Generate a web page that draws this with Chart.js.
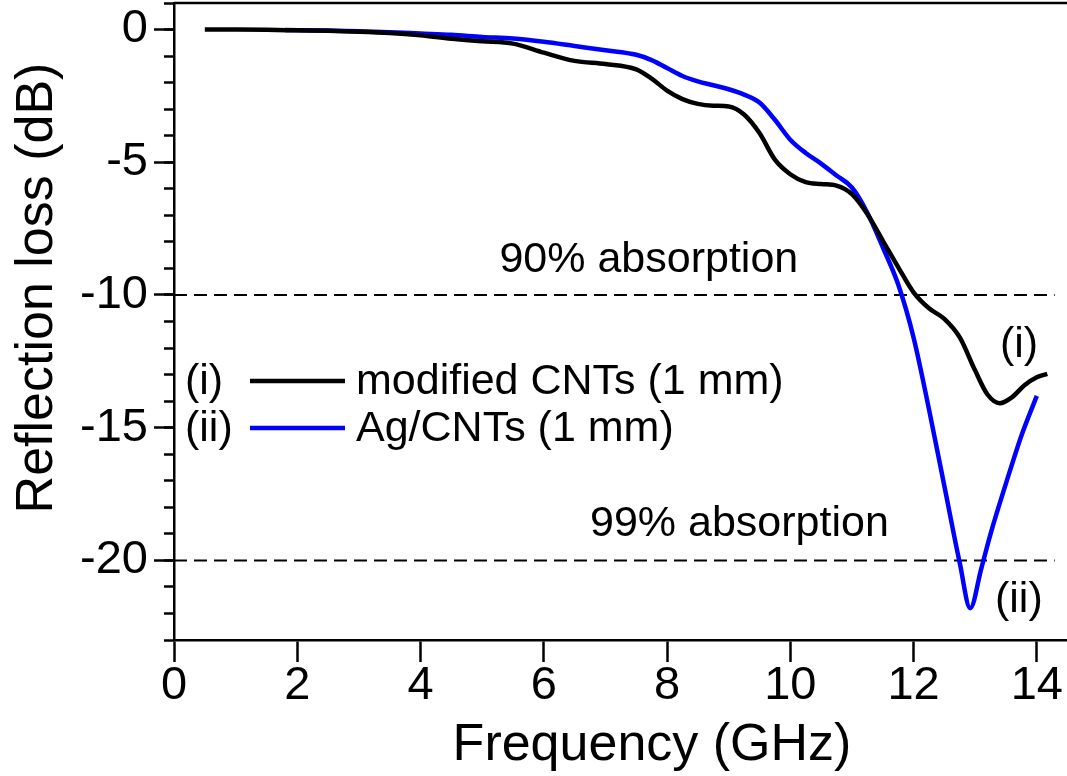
<!DOCTYPE html>
<html>
<head>
<meta charset="utf-8">
<script src="https://cdn.jsdelivr.net/npm/chart.js"></script>
<style>
    html, body { margin: 0; padding: 0; background: #fff; }
    #wrap { width: 1067px; height: 776px; position: relative; }
</style>
</head>
<body>
<div id="wrap"><canvas id="rlChart"></canvas></div>
<script>
/* ============================================
   DATA
   ============================================ */
const freqCNT = [0.5, 1.0, 1.5, 2.0, 2.5, 3.0, 3.5, 4.0, 4.5, 5.0, 5.5, 6.0, 6.5, 7.0, 7.5, 7.75,
    8.0, 8.25, 8.5, 8.75, 9.0, 9.25, 9.5, 9.75, 10.0, 10.25, 10.5, 10.75, 11.0, 11.25, 11.5, 11.75,
    12.0, 12.25, 12.5, 12.75, 13.0, 13.2, 13.4, 13.6, 13.8, 14.0, 14.17];
const rlCNT = [0, 0, -0.01, -0.03, -0.05, -0.08, -0.13, -0.22, -0.35, -0.44, -0.53, -0.87, -1.18, -1.3, -1.5, -1.85,
    -2.3, -2.62, -2.8, -2.87, -2.9, -3.2, -3.9, -4.9, -5.45, -5.75, -5.82, -5.88, -6.2, -6.95, -7.95, -8.95,
    -9.9, -10.5, -10.9, -11.6, -12.85, -13.75, -14.08, -13.85, -13.4, -13.1, -12.97];

const freqAg = [1.8, 2.5, 3.0, 3.5, 4.0, 4.5, 5.0, 5.5, 6.0, 6.5, 7.0, 7.5, 7.75, 8.0, 8.25, 8.5, 8.75,
    9.0, 9.25, 9.5, 9.75, 10.0, 10.25, 10.5, 10.75, 11.0, 11.25, 11.5, 11.75, 12.0, 12.25, 12.5, 12.75,
    12.92, 13.1, 13.25, 13.5, 13.75, 14.0];
const rlAg = [-0.02, -0.04, -0.06, -0.1, -0.15, -0.2, -0.28, -0.34, -0.46, -0.62, -0.78, -0.95, -1.15, -1.45, -1.75, -1.95, -2.1,
    -2.25, -2.45, -2.75, -3.4, -4.15, -4.65, -5.05, -5.5, -5.95, -6.9, -8.2, -9.6, -11.6, -14.3, -17.2, -20.1,
    -21.8, -20.3, -19.0, -17.1, -15.3, -13.8];

const seriesLabels = ['modified CNTs (1 mm)', 'Ag/CNTs (1 mm)'];
const seriesTags = ['(i)', '(ii)'];

const xTicks = [0, 2, 4, 6, 8, 10, 12, 14];
const yTicks = [0, -5, -10, -15, -20];

const thresholdLevels = [-10, -20];
const thresholdLabels = ['90% absorption', '99% absorption'];
const thresholdSpan = [0, 14.29];

/* ============================================
   HELPERS
   ============================================ */
const FONT = "'Liberation Sans', Arial, sans-serif";
const toPoints = (xs, ys) => xs.map((x, i) => ({ x: x, y: ys[i] }));

const thresholdSets = thresholdLevels.map(level => ({
    label: 'limit',
    data: toPoints(thresholdSpan, [level, level]),
    borderColor: '#000',
    borderWidth: 2,
    borderDash: [13, 7],
    pointRadius: 0,
    order: 2
}));

// drop the label padding Chart.js reserves at the ends of an axis
const noEndPadding = scale => {
    scale.paddingTop = 0;
    scale.paddingBottom = 0;
    scale.paddingLeft = 0;
    scale.paddingRight = 0;
};

/* ============================================
   TEXT, LEGEND AND TOP FRAME
   ============================================ */
const extrasPlugin = {
    id: 'extras',
    afterDraw(chart) {
        const ctx = chart.ctx;
        const area = chart.chartArea;
        const x = chart.scales.x;
        const y = chart.scales.y;
        ctx.save();

        // top frame line
        ctx.strokeStyle = '#000';
        ctx.lineWidth = 2.5;
        ctx.beginPath();
        ctx.moveTo(area.left, area.top);
        ctx.lineTo(chart.width, area.top);
        ctx.stroke();

        ctx.fillStyle = '#000';

        // axis titles
        ctx.font = '52px ' + FONT;
        ctx.textAlign = 'center';
        ctx.textBaseline = 'alphabetic';
        ctx.fillText('Frequency (GHz)', 652, 760);
        ctx.save();
        ctx.translate(52, 288);
        ctx.rotate(-Math.PI / 2);
        ctx.fillText('Reflection loss (dB)', 0, 0);
        ctx.restore();

        // threshold captions
        ctx.font = '43px ' + FONT;
        ctx.textAlign = 'left';
        ctx.fillText(thresholdLabels[0], x.getPixelForValue(5.28), y.getPixelForValue(-10) - 23);
        ctx.fillText(thresholdLabels[1], x.getPixelForValue(6.75), y.getPixelForValue(-20) - 24);

        // curve tags
        ctx.fillText(seriesTags[0], 1000, 357);
        ctx.fillText(seriesTags[1], 995, 612);

        // legend
        const rows = [394, 441];
        [0, 1].forEach(i => {
            const ds = chart.data.datasets[i];
            ctx.fillStyle = '#000';
            ctx.fillText(seriesTags[i], 185, rows[i]);
            ctx.fillText(ds.label, 356, rows[i]);
            ctx.strokeStyle = ds.borderColor;
            ctx.lineWidth = 4.5;
            ctx.beginPath();
            ctx.moveTo(250, rows[i] - 13);
            ctx.lineTo(345, rows[i] - 13);
            ctx.stroke();
        });

        ctx.restore();
    }
};

/* ============================================
   CHART
   ============================================ */
new Chart(document.getElementById('rlChart'), {
    type: 'line',
    data: {
        datasets: [
            {
                label: seriesLabels[0],
                data: toPoints(freqCNT, rlCNT),
                borderColor: '#000000',
                borderWidth: 4.5,
                pointRadius: 0,
                cubicInterpolationMode: 'monotone',
                order: 0
            },
            {
                label: seriesLabels[1],
                data: toPoints(freqAg, rlAg),
                borderColor: '#0000ff',
                borderWidth: 4.5,
                pointRadius: 0,
                cubicInterpolationMode: 'monotone',
                order: 1
            },
            ...thresholdSets
        ]
    },
    options: {
        responsive: true,
        maintainAspectRatio: false,
        animation: false,
        layout: { padding: { top: 3, right: 0, left: 0, bottom: 0 } },
        plugins: {
            legend: { display: false },
            tooltip: { enabled: false }
        },
        scales: {
            x: {
                type: 'linear',
                min: 0,
                max: 14.49,
                afterBuildTicks: scale => { scale.ticks = xTicks.map(v => ({ value: v })); },
                afterFit: scale => { scale.height = 136; noEndPadding(scale); },
                grid: { drawOnChartArea: false, tickLength: 22, tickWidth: 2.5, tickColor: '#000' },
                border: { color: '#000', width: 2.5 },
                ticks: { color: '#000', font: { family: FONT, size: 47 }, padding: -4, maxRotation: 0 }
            },
            y: {
                type: 'linear',
                position: 'left',
                weight: 1,
                min: -23,
                max: 1,
                afterBuildTicks: scale => { scale.ticks = yTicks.map(v => ({ value: v })); },
                afterFit: scale => { scale.width = 174; noEndPadding(scale); },
                grid: { drawOnChartArea: false, tickLength: 20, tickWidth: 2.5, tickColor: '#000' },
                border: { color: '#000', width: 2.5 },
                ticks: { color: '#000', font: { family: FONT, size: 47 }, padding: 6 }
            },
            yMinor: {
                type: 'linear',
                position: 'left',
                weight: 0,
                min: -23,
                max: 1,
                afterBuildTicks: scale => {
                    const t = [];
                    for (let v = -23; v <= 1; v++) t.push({ value: v });
                    scale.ticks = t;
                },
                afterFit: scale => { scale.width = 0; noEndPadding(scale); },
                grid: { drawOnChartArea: false, tickLength: 10, tickWidth: 2.5, tickColor: '#000' },
                border: { display: false },
                ticks: { display: false }
            }
        }
    },
    plugins: [extrasPlugin]
});
</script>
</body>
</html>
